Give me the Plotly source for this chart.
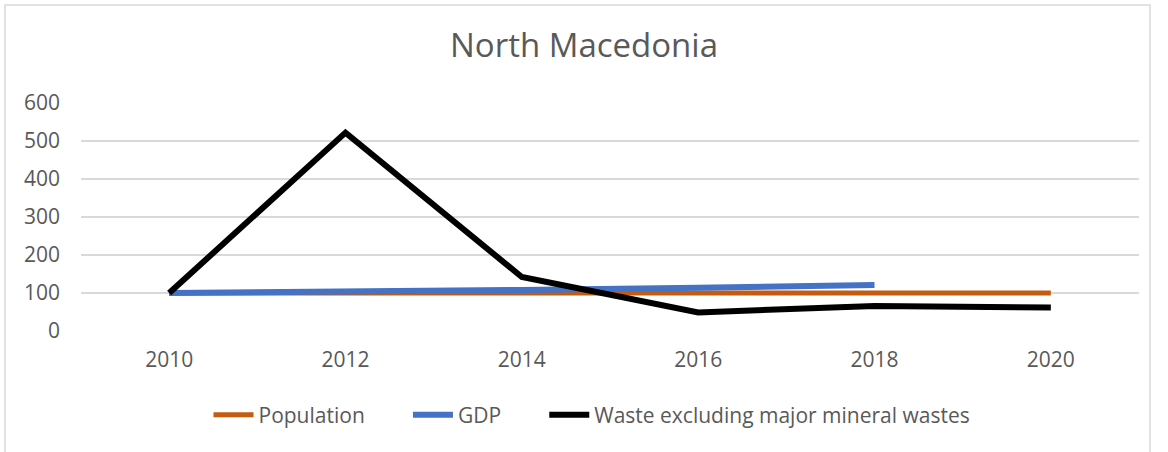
import plotly.graph_objects as go

years = ["2010", "2012", "2014", "2016", "2018", "2020"]
population = [100, 100, 100, 100, 100, 100]
gdp = [100, 103, 108, 114, 121, None]
waste = [100, 522, 142, 49, 66, 62]

series_names = ["Population", "GDP", "Waste excluding major mineral wastes"]
series_values = [population, gdp, waste]
series_colors = ["#C55A11", "#4472C4", "#000000"]
series_widths = [5, 6, 6]

FONT = "Open Sans, Noto Sans, DejaVu Sans, sans-serif"
GREY = "#595959"
PAD = "\u00a0" * 7

fig = go.Figure()
for i, (name, vals, col, w) in enumerate(zip(series_names, series_values, series_colors, series_widths)):
    label = name + (PAD if i < len(series_names) - 1 else "")
    fig.add_trace(go.Scatter(
        x=years, y=vals, name=label, mode="lines",
        line=dict(color=col, width=w),
        connectgaps=False,
        hovertemplate=name + ": %{y}<extra></extra>",
    ))

W, H = 1168, 452
L, R, T, B = 81, 1139, 103, 331
pw, ph = R - L, B - T

def px_x(p):
    return (p - L) / pw

def px_y(p):
    return (B - p) / ph

fig.update_layout(
    width=W, height=H,
    margin=dict(l=L, r=W - R, t=T, b=H - B, autoexpand=False),
    paper_bgcolor="white", plot_bgcolor="white",
    font=dict(family=FONT, color=GREY, size=21),
    title=dict(text="North Macedonia", x=0.5, xanchor="center",
               y=1 - 45 / H, yanchor="middle",
               font=dict(family=FONT, size=33, color=GREY)),
    xaxis=dict(type="category", range=[-0.5, 5.5], showgrid=False, zeroline=False,
               showline=False, ticks="", ticklabelstandoff=14, automargin=False,
               tickfont=dict(size=21, color=GREY)),
    yaxis=dict(range=[0, 600], dtick=100, tick0=0, showgrid=True,
               gridcolor="#D9D9D9", gridwidth=1.5, zeroline=False,
               showline=False, ticks="", ticklabelstandoff=20, automargin=False,
               tickfont=dict(size=21, color=GREY)),
    legend=dict(orientation="h", x=px_x(592), xanchor="center",
                y=px_y(415), yanchor="middle",
                font=dict(size=21, color=GREY),
                itemwidth=40, traceorder="normal"),
    showlegend=True,
)

fig.add_shape(type="rect", xref="paper", yref="paper",
              x0=px_x(5), x1=px_x(1150), y0=px_y(470), y1=px_y(5),
              line=dict(color="#D9D9D9", width=1.5), fillcolor="rgba(0,0,0,0)",
              layer="below")

fig.write_html("out.html",
               config={"displayModeBar": False},
               post_script="document.body.style.margin='0px';document.body.style.overflow='hidden';")
